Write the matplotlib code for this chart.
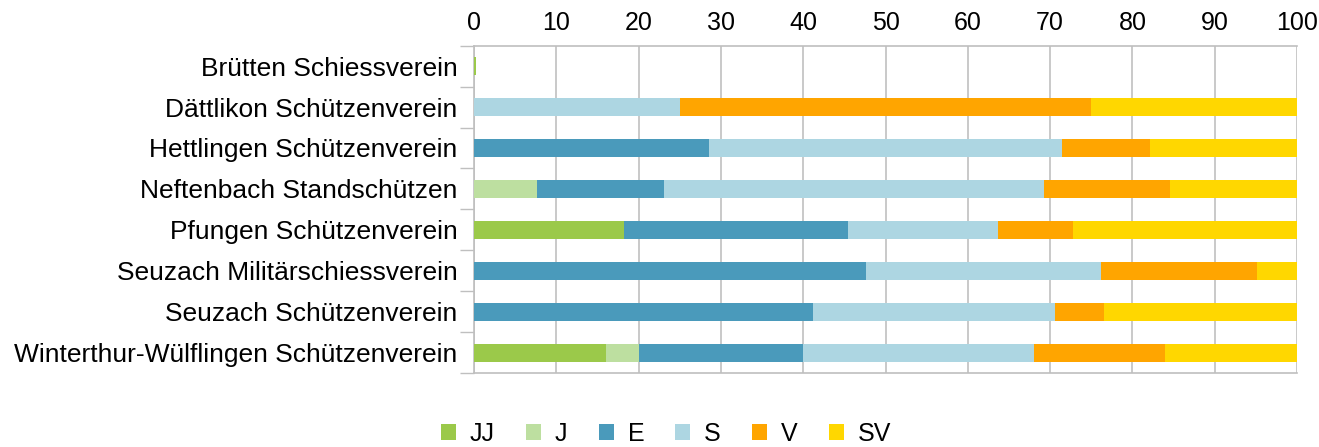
import matplotlib
matplotlib.use("Agg")
import matplotlib.pyplot as plt
import numpy as np

plt.rcParams['font.family'] = ['Liberation Sans', 'DejaVu Sans']

# Vereine, oben nach unten
clubs = ["Brütten Schiessverein",
         "Dättlikon Schützenverein",
         "Hettlingen Schützenverein",
         "Neftenbach Standschützen",
         "Pfungen Schützenverein",
         "Seuzach Militärschiessverein",
         "Seuzach Schützenverein",
         "Winterthur-Wülflingen Schützenverein"]

# Anteile in Prozent pro Kategorie
jj = [0.2, 0, 0, 0, 18.2, 0, 0, 16]
j = [0, 0, 0, 7.7, 0, 0, 0, 4]
e = [0, 0, 28.6, 15.4, 27.3, 47.6, 41.2, 20]
s = [0, 25, 42.9, 46.1, 18.2, 28.6, 29.4, 28]
v = [0, 50, 10.7, 15.4, 9.1, 19.0, 5.9, 16]
sv = [0, 25, 17.8, 15.4, 27.2, 4.8, 23.5, 16]

labels = ["JJ", "J", "E", "S", "V", "SV"]
colors = ["#9BC94A", "#BDDFA0", "#4A9ABB", "#ADD6E2", "#FFA500", "#FFD700"]
series = [jj, j, e, s, v, sv]

fig = plt.figure(figsize=(13.19, 4.47), dpi=100)
ax = fig.add_axes([0.3594, 0.1655, 0.9833 - 0.3594, 0.8978 - 0.1655])

y = np.arange(len(clubs))
left = np.zeros(len(clubs))
for vals, lab, col in zip(series, labels, colors):
    ax.barh(y, vals, left=left, height=0.44, color=col, label=lab, zorder=3)
    left += np.array(vals)

ax.set_xlim(0, 100)
ax.set_ylim(len(clubs) - 0.5, -0.5)
ax.xaxis.tick_top()
ax.set_xticks(range(0, 101, 10))
ax.tick_params(axis='x', length=0, labelsize=18, pad=8)
ax.set_yticks(y)
ax.set_yticklabels(clubs)
ax.tick_params(axis='y', which='major', length=0, labelsize=19, pad=12)
ax.set_yticks(np.arange(-0.5, len(clubs), 1), minor=True)
ax.tick_params(axis='y', which='minor', length=10, color='#BFBFBF', width=1)

ax.grid(axis='x', color='#C0C0C0', linewidth=1.2, zorder=0)
for sp in ['top', 'bottom', 'left']:
    ax.spines[sp].set_color('#BFBFBF')
    ax.spines[sp].set_linewidth(1.2)
ax.spines['right'].set_visible(False)

fig.legend(loc='center', bbox_to_anchor=(0.505, 0.03), ncol=6,
           frameon=False, fontsize=18, handlelength=0.6, handleheight=0.6,
           columnspacing=1.25, handletextpad=0.55, borderpad=0)

fig.savefig("out.png", dpi=100)
